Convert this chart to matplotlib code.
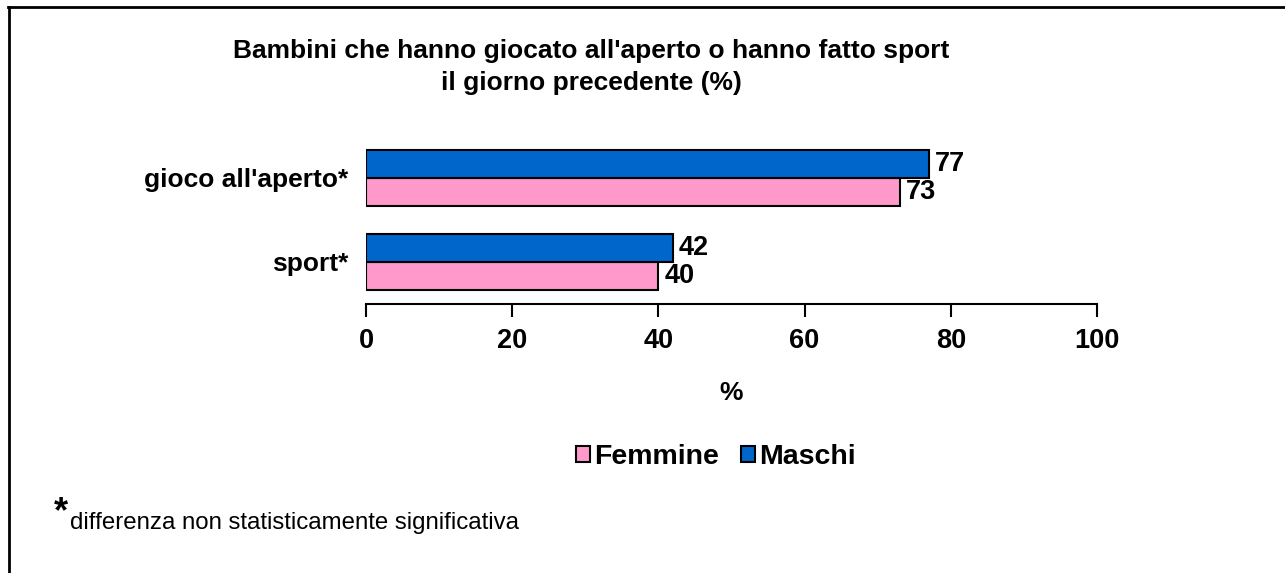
import matplotlib
matplotlib.use("Agg")
import matplotlib.pyplot as plt
from matplotlib.lines import Line2D
from matplotlib.patches import Patch

plt.rcParams['font.family'] = ['Liberation Sans', 'DejaVu Sans']

categories = ["sport*", "gioco all'aperto*"]
femmine = [40, 73]
maschi = [42, 77]
series_names = ["Femmine", "Maschi"]
xticks = [0, 20, 40, 60, 80, 100]

W, H = 1285, 573
fig = plt.figure(figsize=(W / 100, H / 100), dpi=100)

# outer frame (only left and top visible)
fig.add_artist(Line2D([9 / W, 9 / W], [0, 1 - 7 / H], transform=fig.transFigure, color='black', lw=2))
fig.add_artist(Line2D([8 / W, 1], [1 - 7 / H, 1 - 7 / H], transform=fig.transFigure, color='black', lw=2))

ax = fig.add_axes([366 / W, 1 - 304 / H, (1097 - 366) / W, (304 - 136) / H])
h = 1 / 3
ys = list(range(len(categories)))
pink = '#FF99CC'
blue = '#0066CC'
ax.barh([y - h / 2 for y in ys], femmine, height=h, color=pink, edgecolor='black', lw=1.5)
ax.barh([y + h / 2 for y in ys], maschi, height=h, color=blue, edgecolor='black', lw=1.5)

for y, v in zip(ys, femmine):
    ax.text(v + 0.8, y - h / 2, str(v), va='center', ha='left', fontsize=19.5, fontweight='bold')
for y, v in zip(ys, maschi):
    ax.text(v + 0.8, y + h / 2, str(v), va='center', ha='left', fontsize=19.5, fontweight='bold')

ax.set_xlim(0, 100)
ax.set_ylim(-0.5, 1.5)
ax.set_xticks(xticks)
ax.set_xticklabels([str(t) for t in xticks], fontsize=19.5, fontweight='bold')
ax.set_yticks(ys)
ax.set_yticklabels(categories, fontsize=19, fontweight='bold')
ax.tick_params(axis='y', length=0, pad=13)
ax.tick_params(axis='x', direction='out', length=9, width=1.5, pad=8)
for s in ['top', 'right', 'left']:
    ax.spines[s].set_visible(False)
ax.spines['bottom'].set_linewidth(1.5)
ax.set_xlabel('%', fontsize=19, fontweight='bold', labelpad=20)

fig.text(591 / W, 1 - 67 / H, "Bambini che hanno giocato all'aperto o hanno fatto sport\nil giorno precedente (%)",
         ha='center', va='center', fontsize=19, fontweight='bold', linespacing=1.4)

handles = [Patch(facecolor=pink, edgecolor='black', lw=1.5), Patch(facecolor=blue, edgecolor='black', lw=1.5)]
fig.legend(handles, series_names, loc='center', bbox_to_anchor=(716 / W, 1 - 457 / H), ncol=2, frameon=False,
           prop={'weight': 'bold', 'size': 20.5}, handlelength=0.5, handleheight=0.5, handletextpad=0.15,
           columnspacing=0.75)

fig.text(54 / W, 1 - 513 / H, "*", ha='left', va='center', fontsize=26, fontweight='bold')
fig.text(70 / W, 1 - 523 / H, "differenza non statisticamente significativa", ha='left', va='center', fontsize=17.3)

fig.savefig('out.png', dpi=100)
